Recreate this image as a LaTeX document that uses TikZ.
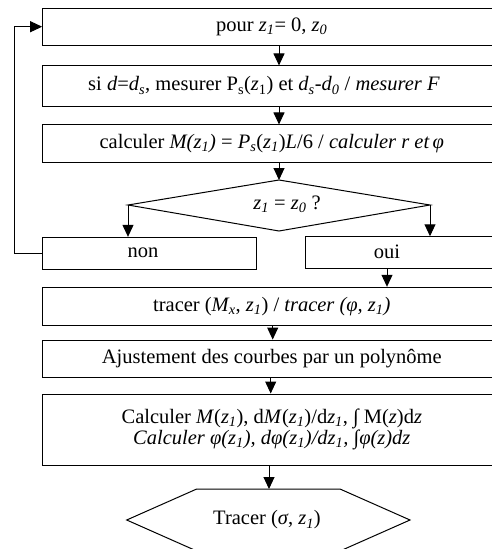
\documentclass[tikz,border=0pt]{standalone}
\usepackage{fontspec}
\setmainfont{Liberation Serif}
\usetikzlibrary{arrows.meta}
\newcommand{\myfs}{\fontsize{20.5}{21.5}\selectfont}
\newcommand{\zi}{\textit{z\textsubscript{1}}}
\newcommand{\zo}{\textit{z\textsubscript{0}}}
\begin{document}
\begin{tikzpicture}[x=1pt,y=-1pt,
  frame/.style={draw, line width=1pt, minimum width=458.3pt, inner sep=0pt, font=\myfs},
  arr/.style={draw, line width=1pt, -{Triangle[length=12pt,width=11pt]}},
  lbl/.style={inner sep=0pt, font=\myfs},
  shp/.style={draw, line width=1pt, line join=miter}]
\useasboundingbox (0,0) rectangle (492,549);
\clip (0,0) rectangle (492,549);
% column coordinates for arrows
\coordinate (c1) at (279,0);
\coordinate (c2) at (272.7,0);
\coordinate (c3) at (270.7,0);
\coordinate (c4) at (269,0);
\coordinate (lp) at (14,0);
% boxes
\node[frame, minimum height=36.7pt] (b1) at (271.8,26.7) {pour \zi= 0, \zo};
\node[frame, minimum height=40.7pt] (b2) at (271.8,86.3) {};
\node[lbl] (b2t) at (264,86) {si \textit{d}=\textit{d\textsubscript{s}}, mesurer P\textsubscript{s}(\textit{z}\textsubscript{1}) et \textit{d\textsubscript{s}}-\textit{d\textsubscript{0}} / \textit{mesurer F}};
\node[frame, minimum height=37.7pt] (b3) at (271.8,143.8) {calculer \textit{M(z\textsubscript{1})} = \textit{P\textsubscript{s}}(\zi)\textit{L}/6 / \textit{calculer r et\,φ}};
% diamond
\coordinate (dt) at (279,180);
\coordinate (dl) at (128,205);
\coordinate (db) at (279,231);
\coordinate (dr) at (430,205);
\draw[shp] (dt) -- (dr) -- (db) -- (dl) -- cycle;
\node[lbl] (dq) at (287,204) {\zi{} = \zo{} ?};
% non / oui
\node[frame, minimum width=214pt, minimum height=31.7pt] (non) at (149.7,253.2) {};
\node[lbl] (nont) at (143,252.5) {non};
\node[frame, minimum width=196pt, minimum height=31.3pt] (oui) at (403,252.4) {};
\node[lbl] (ouit) at (387,252) {oui};
% lower boxes
\node[frame, minimum height=38.4pt] (tr) at (271.8,306.5) {tracer (\textit{M\textsubscript{x}}, \zi) / \textit{tracer (φ, z\textsubscript{1})}};
\node[frame, minimum height=37.3pt] (aj) at (271.8,358.7) {Ajustement des courbes par un polynôme};
\node[frame, minimum height=71pt, align=center] (ca) at (271.8,429.5) {Calculer \textit{M}(\zi), d\textit{M}(\zi)/d\zi, ∫ M(\textit{z})d\textit{z}\\ \textit{Calculer φ(z\textsubscript{1}), dφ(z\textsubscript{1})/dz\textsubscript{1}, ∫φ(z)dz}};
% hexagon
\coordinate (h1) at (196.7,489);
\coordinate (h2) at (340,489);
\coordinate (h3) at (410,520);
\coordinate (h4) at (340,551);
\coordinate (h5) at (196.7,551);
\coordinate (h6) at (126.7,520);
\draw[shp] (h1) -- (h2) -- (h3) -- (h4) -- (h5) -- (h6) -- cycle;
\node[lbl] (hx) at (267,520) {Tracer (\textit{σ}, \zi)};
% connectors
\draw[arr] (b1.south -| c1) -- (b2.north -| c1);
\draw[arr] (b2.south -| c1) -- (b3.north -| c1);
\draw[arr] (b3.south -| c1) -- (dt);
\draw[arr] (dl) -- (dl |- non.north);
\draw[arr] (dr) -- (dr |- oui.north);
\draw[arr] (non.west) -- (non.west -| lp) -- (lp |- b1.west) -- (b1.west);
\draw[arr] (ouit |- oui.south) -- (ouit |- tr.north);
\draw[arr] (tr.south -| c2) -- (aj.north -| c2);
\draw[arr] (aj.south -| c3) -- (ca.north -| c3);
\draw[arr] (ca.south -| c4) -- (h1 -| c4);
\end{tikzpicture}
\end{document}
